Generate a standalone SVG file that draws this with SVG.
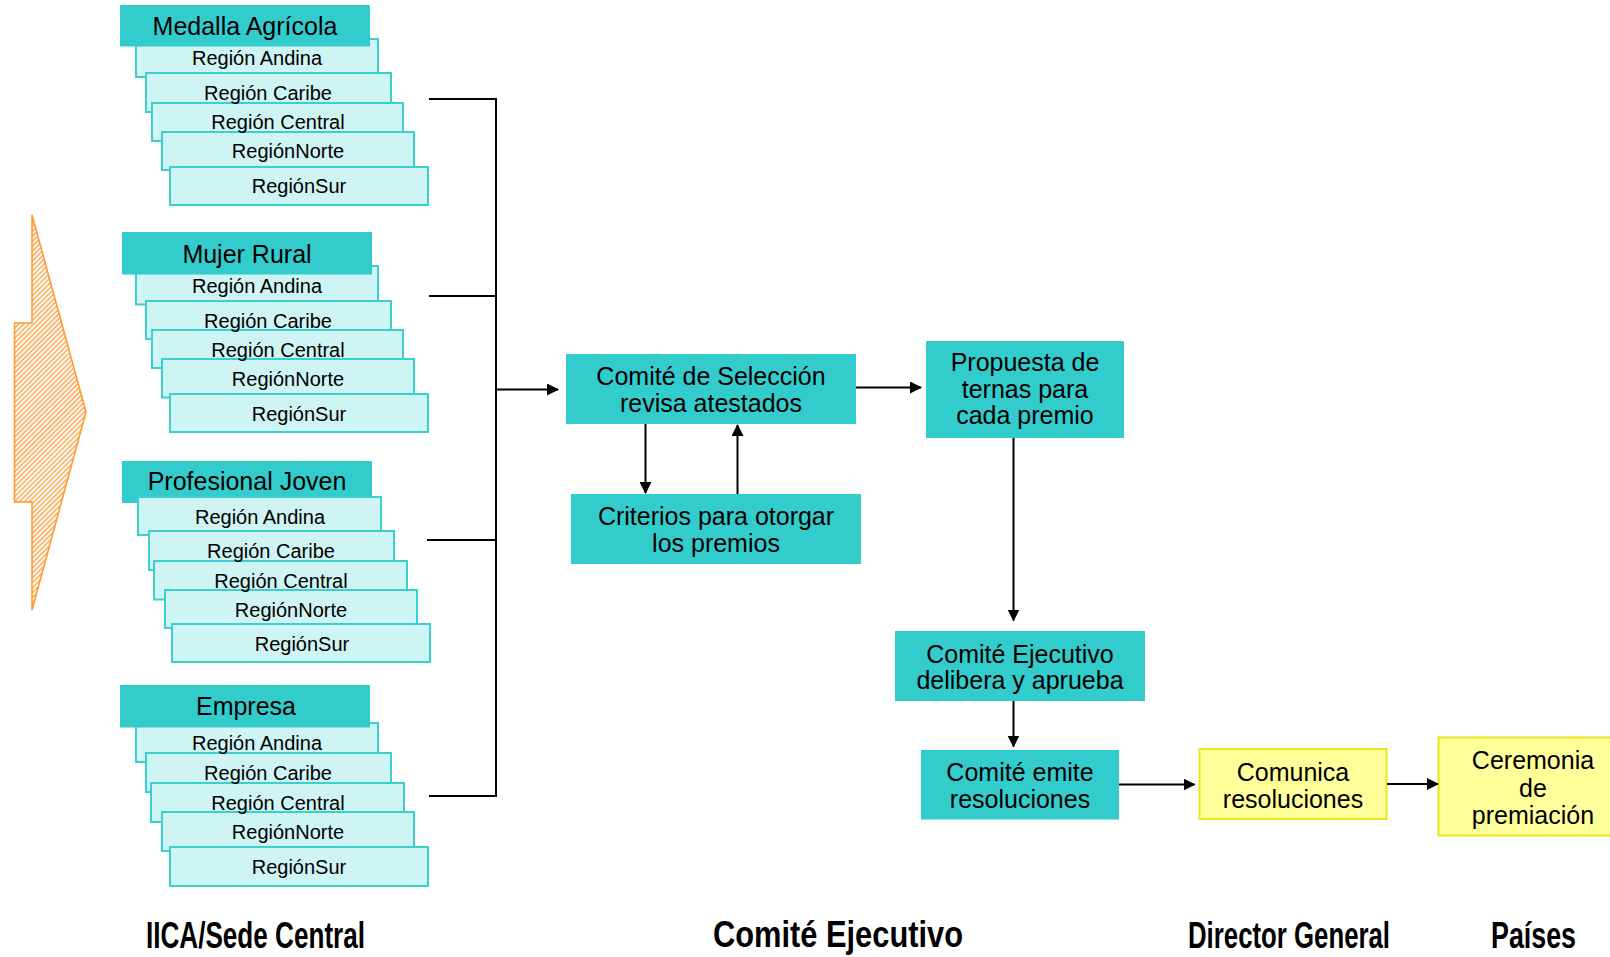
<svg xmlns="http://www.w3.org/2000/svg" width="1610" height="957" viewBox="0 0 1610 957">
<style>
.hd{fill:#33CCCC;}
.rg{fill:#CEF4F3;stroke:#3CCFCF;stroke-width:2;}
.bx{fill:#33CCCC;}
.yb{fill:#FFFF99;stroke:#E8E61E;stroke-width:2;}
text{font-family:"Liberation Sans",Arial,sans-serif;fill:#000;text-anchor:middle;}
.ht{font-size:25px;}
.rt{font-size:20px;}
.bt{font-size:25px;}
.lb{font-size:36px;font-weight:bold;text-anchor:start;}
.cn{fill:none;stroke:#000;stroke-width:2;}
</style>
<defs>
<marker id="ah" markerUnits="userSpaceOnUse" markerWidth="12" markerHeight="12" refX="11" refY="6" orient="auto">
<path d="M0,0 L12,6 L0,12 z" fill="#000"/>
</marker>
<pattern id="hatch" width="3.5" height="3.5" patternUnits="userSpaceOnUse" patternTransform="rotate(45)">
<rect width="3.5" height="3.5" fill="#fff"/>
<line x1="1" y1="0" x2="1" y2="3.5" stroke="#FF9933" stroke-width="1.3"/>
</pattern>
</defs>

<g id="big-arrow">
<path d="M32,215 L86,412 L32,610 L32,502 L14.5,502 L14.5,323 L32,323 Z" fill="url(#hatch)" stroke="#FF9933" stroke-width="1.6"/>
</g>

<g id="medalla">
<rect class="rg" x="136" y="39" width="242" height="38"/>
<rect class="rg" x="146" y="73" width="245" height="39"/>
<rect class="rg" x="152" y="103" width="251" height="38"/>
<rect class="rg" x="162" y="132" width="252" height="38"/>
<rect class="rg" x="170" y="167" width="258" height="38"/>
<rect class="hd" x="120" y="5" width="250" height="41.5"/>
<text class="ht" x="245" y="35">Medalla Agrícola</text>
<text class="rt" x="257" y="65">Región Andina</text>
<text class="rt" x="268" y="100">Región Caribe</text>
<text class="rt" x="278" y="129">Región Central</text>
<text class="rt" x="288" y="158">RegiónNorte</text>
<text class="rt" x="299" y="193">RegiónSur</text>
</g>

<g id="mujer-rural">
<rect class="rg" x="136" y="266" width="242" height="38.5"/>
<rect class="rg" x="146" y="301" width="245" height="38"/>
<rect class="rg" x="152" y="330" width="251" height="38"/>
<rect class="rg" x="162" y="359" width="252" height="38.5"/>
<rect class="rg" x="170" y="394" width="258" height="38"/>
<rect class="hd" x="122" y="232" width="250" height="42.5"/>
<text class="ht" x="247" y="263">Mujer Rural</text>
<text class="rt" x="257" y="293">Región Andina</text>
<text class="rt" x="268" y="328">Región Caribe</text>
<text class="rt" x="278" y="357">Región Central</text>
<text class="rt" x="288" y="386">RegiónNorte</text>
<text class="rt" x="299" y="421">RegiónSur</text>
</g>

<g id="profesional-joven">
<rect class="hd" x="122" y="461" width="250" height="42"/>
<rect class="rg" x="138" y="497" width="243" height="38"/>
<rect class="rg" x="149" y="531" width="245" height="39"/>
<rect class="rg" x="154" y="561" width="253" height="38.5"/>
<rect class="rg" x="165" y="590" width="252" height="38"/>
<rect class="rg" x="172" y="624" width="258" height="38"/>
<text class="ht" x="247" y="490">Profesional Joven</text>
<text class="rt" x="260" y="524">Región Andina</text>
<text class="rt" x="271" y="558">Región Caribe</text>
<text class="rt" x="281" y="588">Región Central</text>
<text class="rt" x="291" y="617">RegiónNorte</text>
<text class="rt" x="302" y="651">RegiónSur</text>
</g>

<g id="empresa">
<rect class="rg" x="136" y="723" width="242" height="39"/>
<rect class="rg" x="146" y="753" width="245" height="39"/>
<rect class="rg" x="151" y="783" width="253" height="39"/>
<rect class="rg" x="162" y="812" width="252" height="39"/>
<rect class="rg" x="170" y="847" width="258" height="39"/>
<rect class="hd" x="120" y="685" width="250" height="42.5"/>
<text class="ht" x="246" y="715">Empresa</text>
<text class="rt" x="257" y="750">Región Andina</text>
<text class="rt" x="268" y="780">Región Caribe</text>
<text class="rt" x="278" y="810">Región Central</text>
<text class="rt" x="288" y="839">RegiónNorte</text>
<text class="rt" x="299" y="874">RegiónSur</text>
</g>

<g id="seleccion">
<rect class="bx" x="566" y="354" width="290" height="70"/>
<text class="bt" x="711" y="385">Comité de Selección</text>
<text class="bt" x="711" y="411.5">revisa atestados</text>
</g>

<g id="criterios">
<rect class="bx" x="571" y="494" width="290" height="70"/>
<text class="bt" x="716" y="525">Criterios para otorgar</text>
<text class="bt" x="716" y="551.5">los premios</text>
</g>

<g id="propuesta">
<rect class="bx" x="926" y="341" width="198" height="97"/>
<text class="bt" x="1025" y="370.5">Propuesta de</text>
<text class="bt" x="1025" y="397.5">ternas para</text>
<text class="bt" x="1025" y="424">cada premio</text>
</g>

<g id="delibera">
<rect class="bx" x="895" y="631" width="250" height="70"/>
<text class="bt" x="1020" y="662.5">Comité Ejecutivo</text>
<text class="bt" x="1020" y="688.5">delibera y aprueba</text>
</g>

<g id="emite">
<rect class="bx" x="921" y="750" width="198" height="69.5"/>
<text class="bt" x="1020" y="781">Comité emite</text>
<text class="bt" x="1020" y="807.5">resoluciones</text>
</g>

<g id="comunica">
<rect class="yb" x="1199.5" y="749" width="187" height="70"/>
<text class="bt" x="1293" y="781">Comunica</text>
<text class="bt" x="1293" y="807.5">resoluciones</text>
</g>

<g id="ceremonia">
<rect class="yb" x="1438.5" y="737.5" width="190" height="98"/>
<text class="bt" x="1533" y="769">Ceremonia</text>
<text class="bt" x="1533" y="796.5">de</text>
<text class="bt" x="1533" y="824">premiación</text>
</g>

<g id="connectors">
<path class="cn" d="M429,99 H496 M429,296 H496 M427,540 H496 M429,796 H496 M496,98 V797"/>
<path class="cn" d="M496,389.5 H558" marker-end="url(#ah)"/>
<path class="cn" d="M645.5,424 V493" marker-end="url(#ah)"/>
<path class="cn" d="M737.5,494 V425" marker-end="url(#ah)"/>
<path class="cn" d="M856,387.5 H921" marker-end="url(#ah)"/>
<path class="cn" d="M1013.5,438 V620.5" marker-end="url(#ah)"/>
<path class="cn" d="M1013.5,701 V746.5" marker-end="url(#ah)"/>
<path class="cn" d="M1119,784.5 H1194.5" marker-end="url(#ah)"/>
<path class="cn" d="M1387,784 H1438" marker-end="url(#ah)"/>
</g>

<g id="labels">
<text class="lb" x="146" y="948" textLength="219" lengthAdjust="spacingAndGlyphs">IICA/Sede Central</text>
<text class="lb" x="713" y="947" textLength="250" lengthAdjust="spacingAndGlyphs">Comité Ejecutivo</text>
<text class="lb" x="1188" y="948" textLength="202" lengthAdjust="spacingAndGlyphs">Director General</text>
<text class="lb" x="1491" y="948" textLength="85" lengthAdjust="spacingAndGlyphs">Países</text>
</g>
</svg>
